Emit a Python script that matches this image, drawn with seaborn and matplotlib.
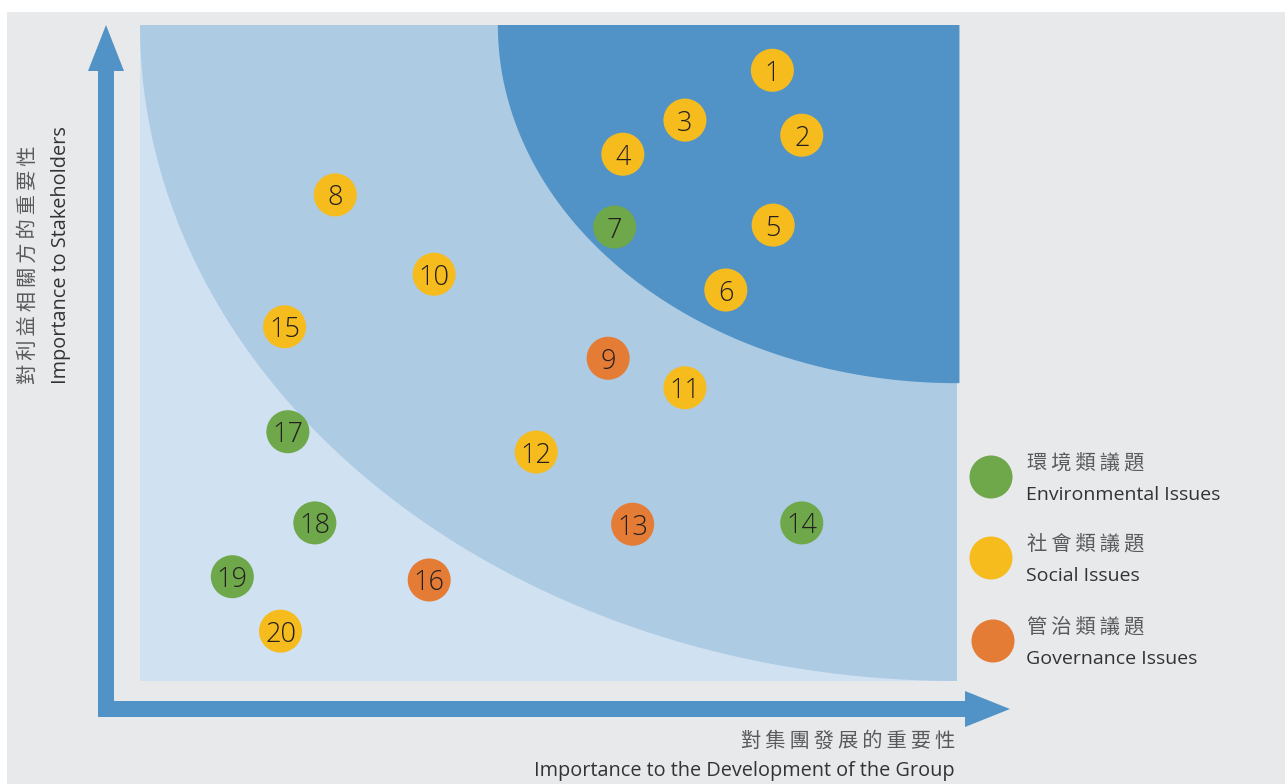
import numpy as np
import pandas as pd
import matplotlib
matplotlib.use("Agg")
import matplotlib.pyplot as plt
from matplotlib.patches import Rectangle, Polygon
import seaborn as sns

# ---------------- data ----------------
issue_ids = list(range(1, 21))
# importance to the development of the group (0-10)
x_group = [7.74, 8.10, 6.67, 5.91, 7.75, 7.17, 5.81, 2.39, 5.73, 3.60,
           6.67, 4.85, 6.03, 8.10, 1.77, 3.54, 1.81, 2.14, 1.13, 1.72]
# importance to stakeholders (0-10)
y_stake = [9.31, 8.32, 8.55, 8.03, 6.95, 5.96, 6.92, 7.41, 4.92, 6.20,
           4.47, 3.49, 2.39, 2.41, 5.40, 1.54, 3.80, 2.41, 1.59, 0.76]
categories = ["S", "S", "S", "S", "S", "S", "E", "S", "G", "S",
              "S", "S", "G", "E", "S", "G", "E", "E", "E", "S"]

cat_keys = ["E", "S", "G"]
cat_zh = ["環境類議題", "社會類議題", "管治類議題"]
cat_en = ["Environmental Issues", "Social Issues", "Governance Issues"]
cat_colors = ["#6ea84a", "#f6bc1e", "#e57c35"]

xlabel_zh = "對集團發展的重要性"
xlabel_en = "Importance to the Development of the Group"
ylabel_zh = "對利益相關方的重要性"
ylabel_en = "Importance to Stakeholders"

# ---------------- style ----------------
sns.set_theme(style="white")
plt.rcParams["font.family"] = ["Open Sans", "Noto Sans CJK TC", "DejaVu Sans"]

W, H = 1285, 784
fig = plt.figure(figsize=(W / 100, H / 100), dpi=100)
fig.patch.set_facecolor("white")

# background / decoration axes in pixel coordinates
bg = fig.add_axes([0, 0, 1, 1])
bg.set_xlim(0, W)
bg.set_ylim(H, 0)
bg.axis("off")
bg.add_patch(Rectangle((7, 12), W - 7, H - 12, facecolor="#e8e9eb", edgecolor="none"))

arrow_c = "#5293c7"
# vertical arrow
bg.add_patch(Rectangle((98, 68), 16, 717 - 68, facecolor=arrow_c, edgecolor="none"))
bg.add_patch(Polygon([(88, 71), (124, 71), (106, 25)], closed=True, facecolor=arrow_c, edgecolor="none"))
# horizontal arrow
bg.add_patch(Rectangle((98, 701), 970 - 98, 16, facecolor=arrow_c, edgecolor="none"))
bg.add_patch(Polygon([(965, 691), (965, 727), (1010, 709)], closed=True, facecolor=arrow_c, edgecolor="none"))

zh_family = ["Noto Sans CJK TC", "DejaVu Sans"]
en_family = ["Open Sans", "DejaVu Sans"]
def spaced(s):
    return "\u2009".join(s)

zh_color = "#595a5c"
en_color = "#333333"
zh_size = 14.6
en_size = 14.3

bg.text(955, 741, spaced(xlabel_zh), ha="right", va="center", fontsize=zh_size,
        family=zh_family, color=zh_color, fontweight="light")
bg.text(955, 771, xlabel_en, ha="right", va="center", fontsize=en_size,
        family=en_family, color=en_color)
bg.text(28, 384, spaced(ylabel_zh), rotation=90, rotation_mode="anchor", ha="left", va="center",
        fontsize=zh_size, family=zh_family, color=zh_color, fontweight="light")
bg.text(61, 384, ylabel_en, rotation=90, rotation_mode="anchor", ha="left", va="center",
        fontsize=en_size, family=en_family, color=en_color)

# legend
leg_y = [477, 558, 641]
bg.scatter([991, 991, 993], leg_y, s=960, c=cat_colors, linewidths=0, zorder=3)
for zh, en, yy in zip(cat_zh, cat_en, leg_y):
    bg.text(1027, yy - 14, spaced(zh), ha="left", va="center", fontsize=zh_size,
            family=zh_family, color=zh_color, fontweight="light")
    bg.text(1026, yy + 18, en, ha="left", va="center", fontsize=14,
            family=en_family, color=en_color)

# ---------------- main matrix axes ----------------
px0, px1, py0, py1 = 140, 957, 25, 681
ax = fig.add_axes([px0 / W, (H - py1) / H, (px1 - px0) / W, (py1 - py0) / H])
ax.set_xlim(0, 10)
ax.set_ylim(0, 10)
ax.set_facecolor("#d0e2f1")
for sp in ax.spines.values():
    sp.set_visible(False)
ax.set_xticks([])
ax.set_yticks([])

t = np.linspace(0, np.pi / 2, 300)
# medium zone
a1, b1 = 10.0, 10.0
mx = np.concatenate([10 - a1 * np.cos(t), [10]])
my = np.concatenate([10 - b1 * np.sin(t), [10]])
ax.fill(mx, my, color="#aecbe4", lw=0, zorder=1)
# dark zone
a2, b2 = 5.62, 5.46
dx = np.concatenate([10 - a2 * np.cos(t), [10.03, 10.03]])
dy = np.concatenate([10 - b2 * np.sin(t), [10 - b2, 10]])
ax.fill(dx, dy, color="#5293c7", lw=0, zorder=2, clip_on=False)

df = pd.DataFrame({"id": issue_ids, "x": x_group, "y": y_stake, "cat": categories})
sns.scatterplot(data=df, x="x", y="y", hue="cat", hue_order=cat_keys,
                palette=dict(zip(cat_keys, cat_colors)), s=960, linewidth=0,
                legend=False, ax=ax, zorder=3)
for _, r in df.iterrows():
    ax.text(r["x"], r["y"], str(r["id"]), ha="center", va="center_baseline",
            fontsize=19.5, color="#231f20", family=en_family,
            fontweight="light", zorder=4)
ax.set_xlabel("")
ax.set_ylabel("")

fig.savefig("out.png", dpi=100, facecolor="white")
